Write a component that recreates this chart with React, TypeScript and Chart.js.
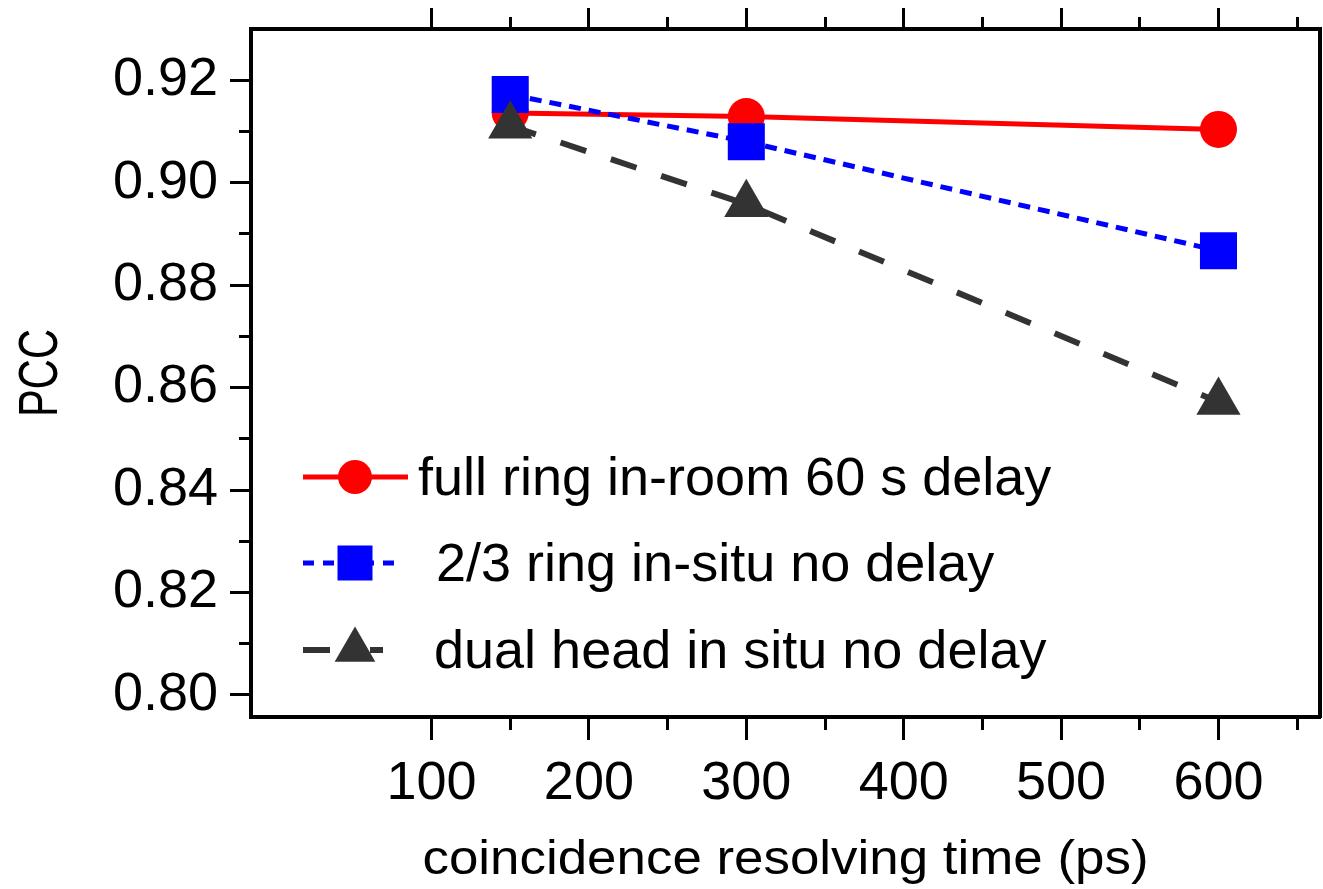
import React, { useEffect, useRef } from 'react';
import { Chart, registerables } from 'chart.js';

Chart.register(...registerables);

// ---- data ----
const xValues = [150, 300, 600];
const fullRing = [0.9136, 0.9129, 0.9104];
const twoThirdsRing = [0.9172, 0.908, 0.8867];
const dualHead = [0.9111, 0.8958, 0.8572];
const seriesLabels = [
  'full ring in-room 60 s delay',
  '2/3 ring in-situ no delay',
  'dual head in situ no delay',
];
const xMajorTicks = [100, 200, 300, 400, 500, 600];
const xMinorTicks = [150, 250, 350, 450, 550, 650];
const yMajorTicks = [0.8, 0.82, 0.84, 0.86, 0.88, 0.9, 0.92];
const yMinorTicks = [0.81, 0.83, 0.85, 0.87, 0.89, 0.91];
const xTitle = 'coincidence resolving time (ps)';
const yTitle = 'PCC';

const X_MIN = -14.7;
const X_MAX = 664.5;
const Y_MIN = 0.7957;
const Y_MAX = 0.93;

const FONT = '"Liberation Sans", Arial, Helvetica, sans-serif';
const RED = '#ff0000';
const BLUE = '#0000ff';
const DARK = '#333333';

const inList = (list: number[], v: number) => list.some((m) => Math.abs(m - v) < 1e-6);
const toPoints = (ys: number[]) => xValues.map((x, i) => ({ x, y: ys[i] }));

const zeroPad = (axis: any) => {
  axis.paddingTop = 0;
  axis.paddingBottom = 0;
  axis.paddingLeft = 0;
  axis.paddingRight = 0;
};

const legendPlugin = {
  id: 'insideLegend',
  afterDatasetsDraw(chart: any) {
    const { ctx, chartArea } = chart;
    const L = chartArea.left;
    const T = chartArea.top;
    const rows = [
      { color: RED, dash: [] as number[], width: 5, lineEnd: 157, marker: 'circle', textX: 167, dy: 448 },
      { color: BLUE, dash: [11, 9], width: 5, lineEnd: 147, marker: 'square', textX: 185, dy: 534 },
      { color: DARK, dash: [27, 40], width: 6, lineEnd: 132, marker: 'triangle', textX: 183, dy: 621 },
    ];
    ctx.save();
    rows.forEach((r, i) => {
      const y = T + r.dy;
      const x0 = L + 52;
      const mx = L + 104;
      ctx.save();
      ctx.strokeStyle = r.color;
      ctx.lineWidth = r.width;
      ctx.setLineDash(r.dash);
      ctx.beginPath();
      ctx.moveTo(x0, y);
      ctx.lineTo(L + r.lineEnd, y);
      ctx.stroke();
      ctx.restore();
      ctx.fillStyle = r.color;
      ctx.beginPath();
      if (r.marker === 'circle') {
        ctx.arc(mx, y, 17, 0, Math.PI * 2);
      } else if (r.marker === 'square') {
        ctx.rect(mx - 17.5, y - 17.5, 35, 35);
      } else {
        const rr = 23.5;
        ctx.moveTo(mx, y - rr);
        ctx.lineTo(mx + rr * Math.sin((2 * Math.PI) / 3), y + rr / 2);
        ctx.lineTo(mx - rr * Math.sin((2 * Math.PI) / 3), y + rr / 2);
        ctx.closePath();
      }
      ctx.fill();
      ctx.fillStyle = '#000';
      ctx.font = `54px ${FONT}`;
      ctx.textAlign = 'left';
      ctx.textBaseline = 'alphabetic';
      ctx.fillText(seriesLabels[i], L + r.textX, y + 18);
    });
    ctx.restore();
  },
};

const titlePlugin = {
  id: 'axisTitles',
  afterDraw(chart: any) {
    const { ctx, chartArea } = chart;
    ctx.save();
    ctx.fillStyle = '#000';
    ctx.textAlign = 'center';
    ctx.textBaseline = 'alphabetic';
    // x title
    ctx.font = `48px ${FONT}`;
    const wx = ctx.measureText(xTitle).width;
    ctx.save();
    ctx.translate((chartArea.left + chartArea.right) / 2, chartArea.bottom + 157);
    ctx.scale(726 / wx, 1);
    ctx.fillText(xTitle, 0, 0);
    ctx.restore();
    // y title
    ctx.font = `56px ${FONT}`;
    const wy = ctx.measureText(yTitle).width;
    ctx.save();
    ctx.translate(57, (chartArea.top + chartArea.bottom) / 2);
    ctx.rotate(-Math.PI / 2);
    ctx.scale(88 / wy, 1);
    ctx.fillText(yTitle, 0, 0);
    ctx.restore();
    ctx.restore();
  },
};

export default function App() {
  const canvasRef = useRef<HTMLCanvasElement | null>(null);

  useEffect(() => {
    if (!canvasRef.current) return;
    const xTicksAll = [...xMajorTicks, ...xMinorTicks].sort((a, b) => a - b);
    const yTicksAll = [...yMajorTicks, ...yMinorTicks].sort((a, b) => a - b);

    const chart = new Chart(canvasRef.current, {
      type: 'line',
      data: {
        datasets: [
          {
            label: seriesLabels[0],
            data: toPoints(fullRing),
            borderColor: RED,
            backgroundColor: RED,
            borderWidth: 5,
            pointStyle: 'circle',
            pointRadius: 18.5,
            pointHoverRadius: 18.5,
            pointBackgroundColor: RED,
            pointBorderWidth: 0,
            order: 3,
            xAxisID: 'x',
            yAxisID: 'y',
          },
          {
            label: seriesLabels[1],
            data: toPoints(twoThirdsRing),
            borderColor: BLUE,
            backgroundColor: BLUE,
            borderWidth: 5,
            borderDash: [12, 8],
            pointStyle: 'rect',
            pointRadius: 26.2,
            pointHoverRadius: 26.2,
            pointBackgroundColor: BLUE,
            pointBorderWidth: 0,
            order: 2,
            xAxisID: 'x',
            yAxisID: 'y',
          },
          {
            label: seriesLabels[2],
            data: toPoints(dualHead),
            borderColor: DARK,
            backgroundColor: DARK,
            borderWidth: 6,
            borderDash: [27, 26],
            pointStyle: 'triangle',
            pointRadius: 25.5,
            pointHoverRadius: 25.5,
            pointBackgroundColor: DARK,
            pointBorderWidth: 0,
            order: 1,
            xAxisID: 'x',
            yAxisID: 'y',
          },
        ],
      },
      options: {
        responsive: false,
        animation: false,
        events: [],
        layout: { padding: 0, autoPadding: false },
        plugins: {
          legend: { display: false },
          tooltip: { enabled: false },
          title: { display: false },
        },
        scales: {
          x: {
            type: 'linear',
            position: 'bottom',
            min: X_MIN,
            max: X_MAX,
            afterBuildTicks: (axis: any) => {
              axis.ticks = xTicksAll.map((v) => ({ value: v }));
            },
            afterFit: (axis: any) => {
              axis.height = 172;
              zeroPad(axis);
            },
            ticks: {
              autoSkip: false,
              maxRotation: 0,
              padding: 12,
              color: '#000',
              font: { family: FONT, size: 54 },
              callback: (v: any) => (inList(xMajorTicks, Number(v)) ? String(v) : ''),
            },
            grid: {
              drawOnChartArea: false,
              drawTicks: true,
              tickLength: 23,
              tickWidth: 3,
              tickColor: '#000',
              tickBorderDash: (c: any) => (c.tick && inList(xMinorTicks, c.tick.value) ? [11, 1000] : []),
            },
            border: { display: true, color: '#000', width: 4 },
          },
          x2: {
            type: 'linear',
            position: 'top',
            min: X_MIN,
            max: X_MAX,
            afterBuildTicks: (axis: any) => {
              axis.ticks = xTicksAll.map((v) => ({ value: v }));
            },
            afterFit: (axis: any) => {
              axis.height = 29;
              zeroPad(axis);
            },
            ticks: { display: false, autoSkip: false },
            grid: {
              drawOnChartArea: false,
              drawTicks: true,
              tickLength: 21,
              tickWidth: 3,
              tickColor: '#000',
              tickBorderDash: (c: any) => (c.tick && inList(xMinorTicks, c.tick.value) ? [0, 9, 20, 1000] : []),
            },
            border: { display: true, color: '#000', width: 4 },
          },
          y: {
            type: 'linear',
            position: 'left',
            min: Y_MIN,
            max: Y_MAX,
            afterBuildTicks: (axis: any) => {
              axis.ticks = yTicksAll.map((v) => ({ value: v }));
            },
            afterFit: (axis: any) => {
              axis.width = 251;
              zeroPad(axis);
            },
            ticks: {
              autoSkip: false,
              padding: 12,
              color: '#000',
              font: { family: FONT, size: 54 },
              callback: (v: any) => (inList(yMajorTicks, Number(v)) ? Number(v).toFixed(2) : ''),
            },
            grid: {
              drawOnChartArea: false,
              drawTicks: true,
              tickLength: 21,
              tickWidth: 3,
              tickColor: '#000',
              tickBorderDash: (c: any) => (c.tick && inList(yMinorTicks, c.tick.value) ? [0, 9, 20, 1000] : []),
            },
            border: { display: true, color: '#000', width: 4 },
          },
          y2: {
            type: 'linear',
            position: 'right',
            min: Y_MIN,
            max: Y_MAX,
            afterFit: (axis: any) => {
              axis.width = 3;
              zeroPad(axis);
            },
            ticks: { display: false },
            grid: { drawOnChartArea: false, drawTicks: false },
            border: { display: true, color: '#000', width: 4 },
          },
        },
      },
      plugins: [legendPlugin, titlePlugin],
    } as any);

    return () => {
      chart.destroy();
    };
  }, []);

  return (
    <div style={{ position: 'absolute', left: 0, top: 0, width: 1323, height: 889, background: '#fff' }}>
      <canvas ref={canvasRef} width={1323} height={889} style={{ display: 'block' }} />
    </div>
  );
}
